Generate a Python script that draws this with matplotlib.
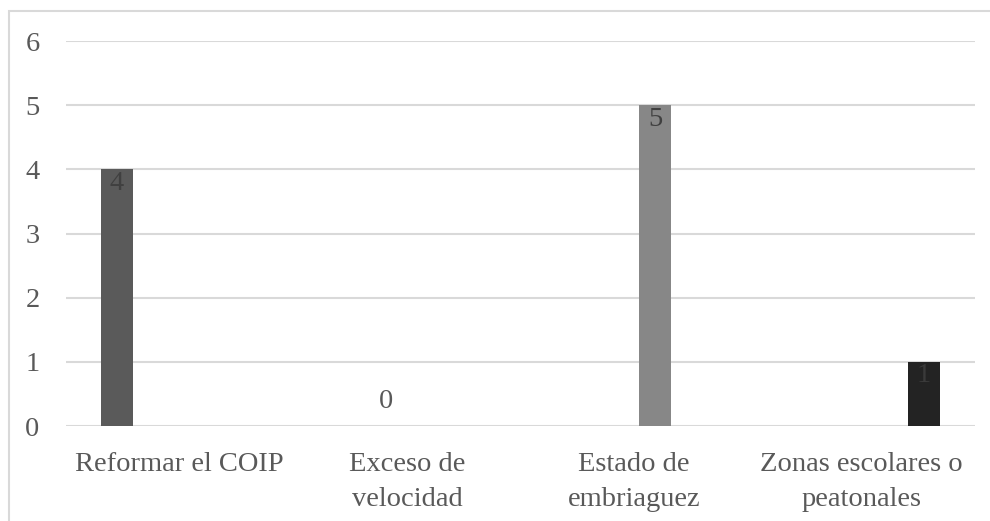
import numpy as np
import matplotlib.pyplot as plt
from matplotlib.patches import Rectangle

categories = ["Reformar el COIP", "Exceso de\nvelocidad", "Estado de\nembriaguez",
              "Zonas escolares o\npeatonales"]
# one series per answer; each only has a value in its own category
series_values = [
    [4, None, None, None],
    [None, 0, None, None],
    [None, None, 5, None],
    [None, None, None, 1],
]
series_colors = ["#5a5a5a", "#7f7f7f", "#878787", "#232323"]
label_colors = ["#404040", "#404040", "#404040", "#3a3a3a"]
y_ticks = [0, 1, 2, 3, 4, 5, 6]

TEXT = "#595959"
GRID = "#d9d9d9"
FS = 20.5

plt.rcParams["font.family"] = ["Liberation Serif", "DejaVu Serif"]

fig = plt.figure(figsize=(9.9, 5.21), dpi=100)
fig.patches.append(Rectangle((9 / 990, -0.1), 1.2, 1 - 11 / 521 + 0.1,
                             transform=fig.transFigure, fill=False,
                             edgecolor=GRID, linewidth=1.5))
ax = fig.add_axes([66 / 990, 1 - 426 / 521, 909 / 990, 385 / 521])

x = np.arange(len(categories))
step = 0.1837
width = 0.145
for k, vals in enumerate(series_values):
    for i, v in enumerate(vals):
        if v is None:
            continue
        xc = x[i] + (k - 1.5) * step
        ax.bar(xc, v, width=width, color=series_colors[k], zorder=3)
        if v > 0:
            ax.annotate(str(v), (xc, v), xytext=(0, -1), textcoords="offset points",
                        ha="center", va="top", fontsize=FS, color=label_colors[k],
                        zorder=4)
        else:
            ax.annotate(str(v), (xc, v), xytext=(0, 9), textcoords="offset points",
                        ha="center", va="bottom", fontsize=FS, color=TEXT, zorder=4)

ax.set_xlim(-0.5, len(categories) - 0.5)
ax.set_ylim(0, 6)
ax.set_yticks(y_ticks)
ax.set_xticks(x)
ax.set_xticklabels(categories, linespacing=1.5)
ax.tick_params(axis="both", length=0, labelsize=FS, colors=TEXT)
ax.tick_params(axis="y", pad=19)
ax.tick_params(axis="x", pad=19)
ax.grid(axis="y", color=GRID, linewidth=1.5, zorder=0)
for s in ax.spines.values():
    s.set_visible(False)

fig.savefig("out.png", dpi=100)
